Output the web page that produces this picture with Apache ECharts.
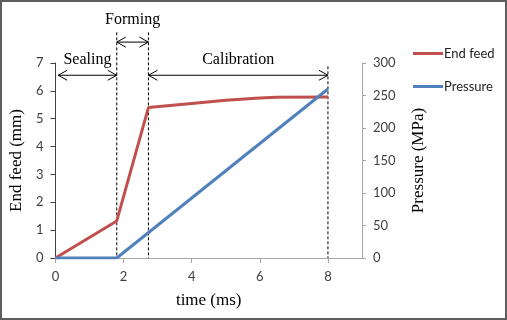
<!DOCTYPE html>
<html>
<head>
<meta charset="utf-8">
<script src="https://cdn.jsdelivr.net/npm/echarts@6/dist/echarts.min.js"></script>
<style>
  html, body { margin: 0; padding: 0; background: #fff; }
  #wrap { position: relative; width: 507px; height: 320px; }
  #main { width: 507px; height: 320px; }
  #frame { position: absolute; left: 0; top: 0; width: 503px; height: 316px;
           border: 2px solid #5e5e5e; pointer-events: none; }
</style>
</head>
<body>
<div id="wrap">
  <div id="main"></div>
  <div id="frame"></div>
</div>
<script>
// ---- data ----
const feedTime = [0, 1.8, 2.73, 4, 5, 6, 6.5, 8];
const feedMm   = [0, 1.33, 5.4, 5.55, 5.66, 5.74, 5.77, 5.78];

const pressTime = [0, 1.8, 8];
const pressMPa  = [0, 0, 260];

// process phases (time in ms), annotation levels in mm-axis units
const phaseNames = ['Sealing', 'Forming', 'Calibration'];
const phaseStart = [0.08, 1.8, 2.73];
const phaseEnd   = [1.8, 2.73, 8];
const arrowLevel = [6.56, 7.75, 6.56];
const labelLevel = [7.13, 8.56, 7.13];
const dividerTop = [8.1, 8.1, 6.88];

const xTicks = [0, 2, 4, 6, 8];

const RED = '#C0504D';
const BLUE = '#4F81BD';
const SANS = 'Lato, "Liberation Sans", sans-serif';
const SERIF = '"Liberation Serif", "DejaVu Serif", serif';

const chart = echarts.init(document.getElementById('main'));

const phaseData = phaseNames.map((n, i) =>
    [phaseStart[i], phaseEnd[i], arrowLevel[i], labelLevel[i], dividerTop[i], n]);

function chevron(tip, dir) {
    // open arrow head, dir = +1 points right, -1 points left
    return {
        type: 'polyline',
        shape: { points: [[tip[0] - dir * 9, tip[1] - 5], tip, [tip[0] - dir * 9, tip[1] + 5]] },
        style: { stroke: '#000', fill: null, lineWidth: 1 }
    };
}

function renderPhase(params, api) {
    const x0 = api.value(0), x1 = api.value(1);
    const a = api.coord([x0, api.value(2)]);
    const b = api.coord([x1, api.value(2)]);
    const lab = api.coord([(x0 + x1) / 2, api.value(3)]);
    const dTop = api.coord([x1, api.value(4)]);
    const dBot = api.coord([x1, 0]);
    return {
        type: 'group',
        children: [
            {
                type: 'line',
                shape: { x1: dTop[0], y1: dTop[1], x2: dBot[0], y2: dBot[1] },
                style: { stroke: '#000', lineWidth: 1, lineDash: [3, 2] }
            },
            {
                type: 'line',
                shape: { x1: a[0], y1: a[1], x2: b[0], y2: b[1] },
                style: { stroke: '#000', lineWidth: 1 }
            },
            chevron(a, -1),
            chevron(b, 1),
            {
                type: 'text',
                x: lab[0], y: lab[1],
                style: {
                    text: api.value(5), fill: '#000',
                    font: '16px ' + SERIF, align: 'center', verticalAlign: 'middle'
                }
            }
        ]
    };
}

const option = {
    backgroundColor: '#fff',
    animation: false,
    grid: { left: 54, right: 145, top: 63, bottom: 62 },
    legend: {
        orient: 'vertical',
        left: 408, top: 42,
        icon: 'rect',
        itemWidth: 30, itemHeight: 3, itemGap: 20,
        textStyle: { fontFamily: SANS, fontSize: 13, color: '#222', padding: [0, 0, 0, -4] },
        data: ['End feed', 'Pressure']
    },
    xAxis: {
        type: 'value',
        min: 0, max: 9, interval: 2,
        name: 'time (ms)',
        nameLocation: 'middle', nameGap: 34,
        nameTextStyle: { fontFamily: SERIF, fontSize: 17, color: '#000' },
        axisLine: { lineStyle: { color: '#A6A6A6', width: 1 } },
        axisTick: { length: 5, lineStyle: { color: '#A6A6A6' } },
        axisLabel: { showMaxLabel: false, margin: 12, fontFamily: SANS, fontSize: 13, color: '#404040',
                     formatter: v => xTicks.includes(v) ? String(v) : '' },
        splitLine: { show: false }
    },
    yAxis: [
        {
            type: 'value', min: 0, max: 7, interval: 1,
            name: 'End feed (mm)',
            nameLocation: 'middle', nameRotate: 90, nameGap: 25,
            nameTextStyle: { fontFamily: SERIF, fontSize: 17, color: '#000' },
            axisLine: { show: true, lineStyle: { color: '#404040', width: 1 } },
            axisTick: { show: true, length: 5, lineStyle: { color: '#404040' } },
            axisLabel: { margin: 12, fontFamily: SANS, fontSize: 13, color: '#404040' },
            splitLine: { show: false }
        },
        {
            type: 'value', min: 0, max: 300, interval: 50,
            position: 'right',
            name: 'Pressure (MPa)',
            nameLocation: 'middle', nameRotate: 90, nameGap: 48,
            nameTextStyle: { fontFamily: SERIF, fontSize: 17, color: '#000' },
            axisLine: { show: true, lineStyle: { color: '#A6A6A6', width: 1 } },
            axisTick: { show: true, length: 4, lineStyle: { color: '#A6A6A6' } },
            axisLabel: { margin: 11, fontFamily: SANS, fontSize: 13, color: '#404040' },
            splitLine: { show: false }
        }
    ],
    series: [
        {
            name: 'End feed',
            type: 'line',
            yAxisIndex: 0,
            data: feedTime.map((t, i) => [t, feedMm[i]]),
            symbol: 'none',
            color: RED,
            lineStyle: { color: RED, width: 3 },
            z: 3
        },
        {
            name: 'Pressure',
            type: 'line',
            yAxisIndex: 1,
            data: pressTime.map((t, i) => [t, pressMPa[i]]),
            symbol: 'none',
            color: BLUE,
            lineStyle: { color: BLUE, width: 3 },
            z: 4
        },
        {
            type: 'custom',
            yAxisIndex: 0,
            clip: false,
            silent: true,
            renderItem: renderPhase,
            data: phaseData,
            encode: { x: [0, 1], y: [2] },
            z: 2
        }
    ]
};

chart.setOption(option);
</script>
</body>
</html>
